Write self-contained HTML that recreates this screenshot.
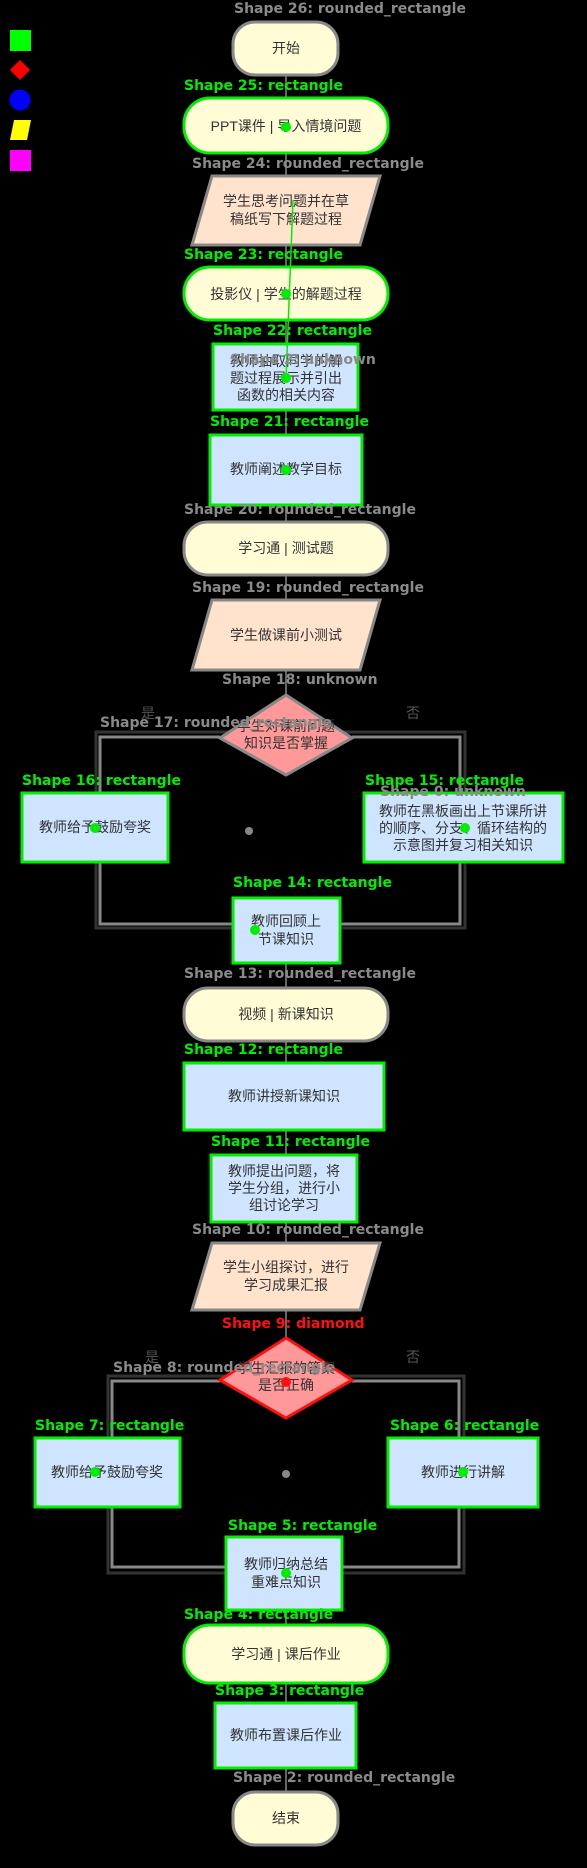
<!DOCTYPE html>
<html><head><meta charset="utf-8"><style>
html,body{margin:0;padding:0;background:#000;}
svg{display:block;}
.cn{font-family:"Liberation Sans","Noto Sans CJK SC",sans-serif;font-size:14px;fill:#333;text-anchor:middle;}
.lb{font-family:"DejaVu Sans","Liberation Sans",sans-serif;font-size:14px;font-weight:bold;}
.g{fill:#00ee00}.gr{fill:#8a8a8a}.r{fill:#ff1010}
</style></head><body>
<svg width="587" height="1868" viewBox="0 0 587 1868" xmlns="http://www.w3.org/2000/svg">
<rect width="587" height="1868" fill="#000"/>
<rect x="10" y="30" width="21" height="21" fill="#00ff00"/>
<polygon points="20,60 30,70 20,80 10,70" fill="#ff0000"/>
<circle cx="20" cy="100" r="10.5" fill="#0000ff"/>
<polygon points="14,120 31,120 27,140 10,140" fill="#ffff00"/>
<rect x="10" y="150" width="21" height="21" fill="#ff00ff"/>

<g stroke="#666" stroke-width="2">
<line x1="286" y1="75" x2="286" y2="98"/>
<line x1="286" y1="153" x2="286" y2="176"/>
<line x1="286" y1="245" x2="286" y2="267"/>
<line x1="286" y1="320" x2="286" y2="344"/>
<line x1="286" y1="410" x2="286" y2="435"/>
<line x1="286" y1="505" x2="286" y2="522"/>
<line x1="286" y1="575" x2="286" y2="600"/>
<line x1="286" y1="670" x2="286" y2="695"/>
<line x1="286" y1="963" x2="286" y2="988"/>
<line x1="286" y1="1041" x2="286" y2="1063"/>
<line x1="286" y1="1130" x2="286" y2="1155"/>
<line x1="286" y1="1222" x2="286" y2="1243"/>
<line x1="286" y1="1310" x2="286" y2="1338"/>
<line x1="286" y1="1610" x2="286" y2="1625"/>
<line x1="286" y1="1683" x2="286" y2="1703"/>
<line x1="286" y1="1768" x2="286" y2="1792"/>
</g>

<rect x="96" y="732" width="369" height="196" fill="none" stroke="#333" stroke-width="3"/>
<path d="M220,737 H100 V793 M100,862 V924 H233 M352,737 H460 V793 M460,862 V924 H340" fill="none" stroke="#888" stroke-width="3"/>
<rect x="108" y="1376" width="356" height="197" fill="none" stroke="#333" stroke-width="3"/>
<path d="M220,1381 H112 V1438 M112,1507 V1567 H226 M352,1381 H459 V1438 M459,1507 V1567 H342" fill="none" stroke="#888" stroke-width="3"/>

<rect x="233" y="22" width="105" height="53" rx="22" fill="#fffcd6" stroke="#888" stroke-width="3"/>
<text class="cn" x="286" y="53">开始</text>

<rect x="184" y="98" width="204" height="55" rx="26" fill="#fffcd6" stroke="#00ee00" stroke-width="3"/>
<text class="cn" x="286" y="131">PPT课件 | 导入情境问题</text>

<polygon points="212,176 380,176 360,245 192,245" fill="#ffe3cc" stroke="#888" stroke-width="3"/>
<text class="cn" x="286" y="206">学生思考问题并在草</text>
<text class="cn" x="286" y="224">稿纸写下解题过程</text>

<rect x="184" y="267" width="204" height="53" rx="26" fill="#fffcd6" stroke="#00ee00" stroke-width="3"/>
<text class="cn" x="286" y="299">投影仪 | 学生的解题过程</text>

<rect x="213" y="344" width="145" height="66" fill="#cfe5ff" stroke="#00ee00" stroke-width="3"/>
<text class="cn" x="286" y="366">教师抽取同学的解</text>
<text class="cn" x="286" y="383">题过程展示并引出</text>
<text class="cn" x="286" y="400">函数的相关内容</text>

<rect x="210" y="435" width="152" height="70" fill="#cfe5ff" stroke="#00ee00" stroke-width="3"/>
<text class="cn" x="286" y="474">教师阐述教学目标</text>

<rect x="184" y="522" width="204" height="53" rx="24" fill="#fffcd6" stroke="#888" stroke-width="3"/>
<text class="cn" x="286" y="553">学习通 | 测试题</text>

<polygon points="212,600 380,600 360,670 192,670" fill="#ffe3cc" stroke="#888" stroke-width="3"/>
<text class="cn" x="286" y="640">学生做课前小测试</text>

<polygon points="286,695 352,738 286,775 220,738" fill="#ff9999" stroke="#888" stroke-width="3"/>
<text class="cn" x="286" y="731">学生对课前问题</text>
<text class="cn" x="286" y="748">知识是否掌握</text>
<text class="cn" x="148" y="718" style="fill:#555">是</text>
<text class="cn" x="413" y="718" style="fill:#555">否</text>

<rect x="22" y="793" width="146" height="69" fill="#cfe5ff" stroke="#00ee00" stroke-width="3"/>
<text class="cn" x="95" y="832">教师给予鼓励夸奖</text>

<rect x="364" y="793" width="199" height="69" fill="#cfe5ff" stroke="#00ee00" stroke-width="3"/>
<text class="cn" x="463" y="816">教师在黑板画出上节课所讲</text>
<text class="cn" x="463" y="833">的顺序、分支、循环结构的</text>
<text class="cn" x="463" y="850">示意图并复习相关知识</text>
<circle cx="249" cy="831" r="4" fill="#888"/>

<rect x="233" y="898" width="107" height="65" fill="#cfe5ff" stroke="#00ee00" stroke-width="3"/>
<text class="cn" x="286" y="926">教师回顾上</text>
<text class="cn" x="286" y="944">节课知识</text>

<rect x="184" y="988" width="204" height="53" rx="24" fill="#fffcd6" stroke="#888" stroke-width="3"/>
<text class="cn" x="286" y="1019">视频 | 新课知识</text>

<rect x="184" y="1063" width="200" height="67" fill="#cfe5ff" stroke="#00ee00" stroke-width="3"/>
<text class="cn" x="284" y="1101">教师讲授新课知识</text>

<rect x="211" y="1155" width="146" height="67" fill="#cfe5ff" stroke="#00ee00" stroke-width="3"/>
<text class="cn" x="284" y="1176">教师提出问题，将</text>
<text class="cn" x="284" y="1193">学生分组，进行小</text>
<text class="cn" x="284" y="1210">组讨论学习</text>

<polygon points="212,1243 380,1243 360,1310 192,1310" fill="#ffe3cc" stroke="#888" stroke-width="3"/>
<text class="cn" x="286" y="1272">学生小组探讨，进行</text>
<text class="cn" x="286" y="1290">学习成果汇报</text>

<polygon points="286,1338 352,1380 286,1418 220,1380" fill="#ff9999" stroke="#ff1010" stroke-width="3"/>
<text class="cn" x="286" y="1373">学生汇报的答案</text>
<text class="cn" x="286" y="1390">是否正确</text>
<text class="cn" x="152" y="1362" style="fill:#555">是</text>
<text class="cn" x="413" y="1362" style="fill:#555">否</text>

<rect x="35" y="1438" width="145" height="69" fill="#cfe5ff" stroke="#00ee00" stroke-width="3"/>
<text class="cn" x="107" y="1477">教师给予鼓励夸奖</text>
<rect x="388" y="1438" width="150" height="69" fill="#cfe5ff" stroke="#00ee00" stroke-width="3"/>
<text class="cn" x="463" y="1477">教师进行讲解</text>
<circle cx="286" cy="1474" r="4" fill="#888"/>

<rect x="226" y="1537" width="116" height="73" fill="#cfe5ff" stroke="#00ee00" stroke-width="3"/>
<text class="cn" x="286" y="1569">教师归纳总结</text>
<text class="cn" x="286" y="1587">重难点知识</text>

<rect x="184" y="1625" width="204" height="58" rx="26" fill="#fffcd6" stroke="#00ee00" stroke-width="3"/>
<text class="cn" x="286" y="1659">学习通 | 课后作业</text>

<rect x="215" y="1703" width="141" height="65" fill="#cfe5ff" stroke="#00ee00" stroke-width="3"/>
<text class="cn" x="286" y="1740">教师布置课后作业</text>

<rect x="233" y="1792" width="105" height="53" rx="22" fill="#fffcd6" stroke="#888" stroke-width="3"/>
<text class="cn" x="286" y="1823">结束</text>

<g fill="#00ee00">
<circle cx="286" cy="127" r="5"/><circle cx="286" cy="294" r="5"/><circle cx="286" cy="378" r="5"/>
<circle cx="286" cy="470" r="5"/><circle cx="95" cy="828" r="5"/><circle cx="465" cy="828" r="5"/>
<circle cx="255" cy="930" r="5"/><circle cx="95" cy="1472" r="5"/><circle cx="463" cy="1472" r="5"/>
<circle cx="286" cy="1573" r="5"/>
</g>
<line x1="293" y1="200" x2="286" y2="380" stroke="#00ee00" stroke-width="1.5"/>
<circle cx="286" cy="1382" r="5" fill="#ff1010"/>

<g class="lb">
<text class="gr" x="234" y="13">Shape 26: rounded_rectangle</text>
<text class="g" x="184" y="90">Shape 25: rectangle</text>
<text class="gr" x="192" y="168">Shape 24: rounded_rectangle</text>
<text class="g" x="184" y="259">Shape 23: rectangle</text>
<text class="g" x="213" y="335">Shape 22: rectangle</text>
<text class="gr" x="230" y="364">Shape 2: unknown</text>
<text class="g" x="210" y="426">Shape 21: rectangle</text>
<text class="gr" x="184" y="514">Shape 20: rounded_rectangle</text>
<text class="gr" x="192" y="592">Shape 19: rounded_rectangle</text>
<text class="gr" x="222" y="684">Shape 18: unknown</text>
<text class="gr" x="100" y="727">Shape 17: rounded_rectangle</text>
<text class="g" x="22" y="785">Shape 16: rectangle</text>
<text class="g" x="365" y="785">Shape 15: rectangle</text>
<text class="gr" x="380" y="796">Shape 0: unknown</text>
<text class="g" x="233" y="887">Shape 14: rectangle</text>
<text class="gr" x="184" y="978">Shape 13: rounded_rectangle</text>
<text class="g" x="184" y="1054">Shape 12: rectangle</text>
<text class="g" x="211" y="1146">Shape 11: rectangle</text>
<text class="gr" x="192" y="1234">Shape 10: rounded_rectangle</text>
<text class="r" x="222" y="1328">Shape 9: diamond</text>
<text class="gr" x="113" y="1372">Shape 8: rounded_rectangle</text>
<text class="g" x="35" y="1430">Shape 7: rectangle</text>
<text class="g" x="390" y="1430">Shape 6: rectangle</text>
<text class="g" x="228" y="1530">Shape 5: rectangle</text>
<text class="g" x="184" y="1619">Shape 4: rectangle</text>
<text class="g" x="215" y="1695">Shape 3: rectangle</text>
<text class="gr" x="233" y="1782">Shape 2: rounded_rectangle</text>
</g>
</svg>
</body></html>
